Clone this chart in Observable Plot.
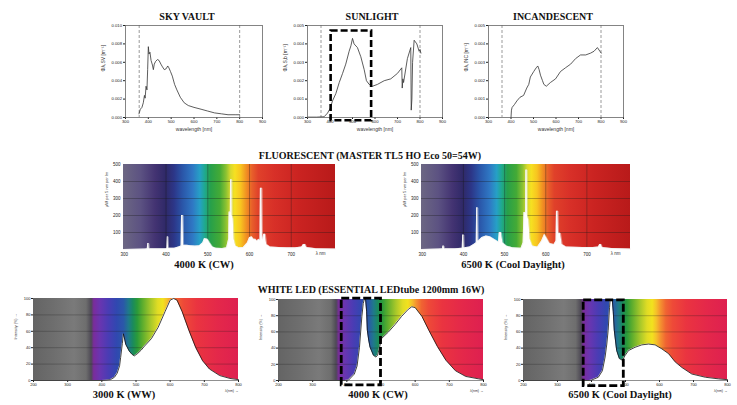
<!DOCTYPE html>
<html><head><meta charset="utf-8">
<script src="https://cdn.jsdelivr.net/npm/d3@7"></script>
<script src="https://cdn.jsdelivr.net/npm/@observablehq/plot@0.6"></script>
<style>
body{margin:0;background:#fff;}
#root{position:relative;width:737px;height:405px;overflow:hidden;background:#fff;}
.t{position:absolute;font-family:"Liberation Serif","Times New Roman",serif;font-weight:bold;white-space:nowrap;transform:translate(-50%,-50%);color:#111;line-height:1;}
</style></head><body><div id="root"></div>
<script>
// ---------- DATA ----------
const topTicksX = [300, 400, 500, 600, 700, 800, 900];
const visibleLimits = [360, 800];
const skyTicksY = [0, 0.002, 0.004, 0.006, 0.008, 0.010];
const sunTicksY = [0, 0.001, 0.002, 0.003, 0.004, 0.005];
const incTicksY = [0, 0.001, 0.002, 0.003, 0.004, 0.005];

const skyVault = [[359,0.0004],[365,0.0009],[372,0.0011],[378,0.0016],[383,0.0024],[386,0.0021],[390,0.0034],[394,0.0030],[397,0.0052],[400,0.0077],[403,0.0069],[407,0.0071],[412,0.0062],[418,0.0057],[422,0.0052],[426,0.0058],[432,0.0061],[440,0.0063],[447,0.0062],[455,0.0058],[462,0.0055],[470,0.0052],[478,0.0053],[485,0.0056],[490,0.0054],[497,0.0050],[505,0.0045],[515,0.0036],[525,0.0030],[540,0.0022],[557,0.0016],[575,0.0013],[600,0.0011],[631,0.0009],[660,0.0007],[690,0.0005],[720,0.0004],[749,0.0003],[780,0.0003],[800,0.0003]];

const sunlight = [[300,0.00002],[340,0.00002],[374,0.00004],[389,0.00024],[401,0.0005],[411,0.0009],[426,0.0013],[441,0.0019],[456,0.0024],[470,0.0029],[485,0.0036],[493,0.0039],[500,0.0043],[507,0.0040],[522,0.0038],[537,0.0033],[552,0.0026],[562,0.0020],[574,0.0018],[589,0.0017],[611,0.0018],[641,0.0020],[670,0.0021],[700,0.0024],[719,0.0027],[721,0.0016],[724,0.0021],[727,0.0019],[744,0.0032],[759,0.0038],[761,0.0004],[764,0.0010],[767,0.0030],[774,0.0042],[786,0.0040],[796,0.0036],[800,0.0037],[804,0.0035]];
const sunBox = [{x1:405, x2:585, y1:-0.00018, y2:0.0047}];

const incandescent = [[400,0],[402,0.0004],[405,0.00055],[415,0.0007],[426,0.0009],[440,0.0011],[456,0.0012],[470,0.0016],[479,0.0018],[486,0.0022],[501,0.0025],[512,0.0027],[519,0.0028],[525,0.0026],[531,0.0023],[540,0.0020],[546,0.0018],[557,0.0017],[575,0.0019],[598,0.0021],[620,0.0025],[642,0.0027],[665,0.0029],[687,0.0032],[709,0.0034],[732,0.0034],[754,0.0035],[769,0.0036],[784,0.0038],[795,0.0036],[801,0.0035]];

const flTicksX = [300, 400, 500, 600, 700];
const flTicksY = [100, 200, 300, 400, 500];
const flGridX = [400, 500, 600, 700];
const flGridY = [100, 200, 300, 400];

const fl4000 = [[298,0],[350,3],[355,5],[356,35],[359,35],[360,5],[380,4],[400,5],[402,8],[403,75],[405,75],[406,8],[420,8],[430,15],[436,20],[437,200],[441,200],[442,25],[450,25],[460,22],[470,20],[480,22],[488,40],[492,65],[500,60],[505,40],[512,15],[520,8],[535,6],[545,10],[550,60],[551,220],[554,220],[554.5,410],[558,410],[558.5,200],[561,180],[563,60],[567,20],[575,10],[585,12],[595,40],[600,70],[606,75],[610,60],[615,60],[618,50],[622,60],[625,55],[626,360],[630,360],[631,60],[634,90],[638,90],[641,30],[650,15],[670,12],[690,10],[710,10],[725,15],[729,30],[734,30],[737,12],[760,5],[806,3]];

const fl6500 = [[298,0],[340,3],[349,4],[350,20],[353,20],[354,4],[380,5],[397,8],[398,85],[401,85],[402,10],[415,15],[425,30],[431,40],[432,245],[435,245],[436,50],[445,70],[455,80],[465,75],[475,60],[485,45],[487,100],[492,100],[496,40],[505,20],[520,10],[540,8],[545,40],[547,218],[551,218],[551.5,467],[555,467],[555.5,200],[559,170],[562,60],[568,20],[580,15],[590,50],[597,90],[602,70],[610,35],[620,30],[625,50],[626,225],[630,225],[631,95],[636,95],[640,30],[650,15],[690,12],[715,12],[728,15],[731,30],[735,30],[738,12],[760,6],[806,3]];

const ledTicksX = [200, 300, 400, 500, 600, 700, 800];
const ledTicksY = [0, 20, 40, 60, 80, 100];
const ledGridY = [20, 40, 60, 80];

const led3000 = [[200,0],[400,0],[412,0.3],[425,1],[437,4],[445,9],[452,18],[455,28],[460,45],[463,57],[466,52],[470,44],[480,36],[488,32],[495,30],[505,33],[515,37],[525,42],[545,51],[565,65],[585,84],[600,98],[610,100],[620,98],[635,84],[655,61],[675,40],[695,24],[715,14],[745,6],[775,2.5],[800,1]];
const led4000 = [[200,0],[395,0],[405,0.5],[422,8],[430,18],[437,41],[444,79],[448,95],[451,100],[455,100],[458,85],[460,62],[464,50],[468,41],[478,31],[485,29],[490,31],[494,38],[502,52],[522,60],[541,69],[560,79],[580,88],[590,91],[600,90],[620,79],[640,62],[665,42],[690,25],[718,12],[748,5],[786,2],[800,1]];
const led4000Box = [{x1:385, x2:500, y1:-6, y2:101}];
const led6500 = [[200,0],[395,0],[400,0.5],[420,4],[432,12],[440,29],[445,45],[449,62],[453,90],[455,100],[461,100],[464,85],[467,62],[474,37],[482,27],[491,25],[499,31],[509,37],[528,41],[548,44],[568,45],[587,44],[607,39],[627,33],[646,23],[666,16],[695,8],[735,4],[774,2],[800,1]];
const led6500Box = [{x1:377, x2:495, y1:-7, y2:99}];

// spectral background colour stops (wavelength, colour)
const flStops = [[298,"#6c6783"],[340,"#5c5282"],[375,"#433372"],[400,"#2f2968"],[420,"#2c3688"],[440,"#2a55a8"],[465,"#2f78c4"],[482,"#26a0c6"],[494,"#1fa98e"],[508,"#27a04a"],[530,"#44aa36"],[545,"#8cc232"],[556,"#d9d92e"],[566,"#f6e021"],[580,"#f8c420"],[593,"#f19222"],[607,"#e8602a"],[622,"#e0412a"],[660,"#d83028"],[720,"#ca2321"],[806,"#b81a1a"]];
const ledStops = [[200,"#646464"],[260,"#6e6e6e"],[320,"#7a7a7a"],[355,"#6e6e6e"],[370,"#4e4a55"],[378,"#7a2c9c"],[395,"#6a35b0"],[420,"#4a3cb4"],[445,"#3048b0"],[465,"#2a58a8"],[480,"#1f7a8a"],[492,"#1a8a5e"],[505,"#2a9a3a"],[520,"#5aac2e"],[545,"#a8c82a"],[565,"#e0dc25"],[580,"#f2e21e"],[592,"#f5c02a"],[605,"#f49030"],[620,"#f06432"],[640,"#ee4a38"],[680,"#ea3440"],[740,"#e4284a"],[800,"#de2050"]];

// ---------- HELPERS ----------
const root = document.getElementById("root");
const sans = "Liberation Sans, Arial, sans-serif";
const X = d => d[0], Y = d => d[1];

function gradientMark(id, stops) {
  return (index, scales, values, dims) => {
    const x = scales.x;
    const lo = stops[0][0], hi = stops[stops.length - 1][0];
    const g = d3.create("svg:g");
    const lg = g.append("defs").append("linearGradient").attr("id", id)
      .attr("gradientUnits", "userSpaceOnUse")
      .attr("x1", x(lo)).attr("x2", x(hi)).attr("y1", 0).attr("y2", 0);
    stops.forEach(([w, c]) => lg.append("stop").attr("offset", (w - lo) / (hi - lo)).attr("stop-color", c));
    g.append("rect").attr("x", dims.marginLeft).attr("y", dims.marginTop)
      .attr("width", dims.width - dims.marginLeft - dims.marginRight)
      .attr("height", dims.height - dims.marginTop - dims.marginBottom)
      .attr("fill", `url(#${id})`);
    return g.node();
  };
}

function place(frame, m, x, y, marks, fs) {
  const [x0, x1, y0, y1] = frame, [mt, mr, mb, ml] = m;
  const p = Plot.plot({
    width: ml + (x1 - x0) + mr, height: mt + (y1 - y0) + mb,
    marginLeft: ml, marginRight: mr, marginTop: mt, marginBottom: mb,
    x, y, marks,
    style: {fontFamily: sans, fontSize: fs + "px", background: "transparent", color: "#222", overflow: "visible"}
  });
  p.style.position = "absolute";
  p.style.left = (x0 - ml) + "px";
  p.style.top = (y0 - mt) + "px";
  p.style.maxWidth = "none";
  root.appendChild(p);
}

function caption(txt, cx, cy, fs) {
  const d = document.createElement("div");
  d.className = "t"; d.textContent = txt;
  d.style.left = cx + "px"; d.style.top = cy + "px"; d.style.fontSize = fs + "px";
  root.appendChild(d);
}

// ---------- TOP ROW ----------
function topChart(frame, data, ticksY, ylab, extra) {
  place(frame, [4, 6, 18, 30],
    {domain: [300, 900], ticks: topTicksX, tickSize: 2, tickPadding: 1, label: null},
    {domain: [ticksY[0], ticksY[ticksY.length - 1]], ticks: ticksY, tickFormat: d3.format(".3f"), tickSize: 2, tickPadding: 1.5, label: null},
    [
      Plot.ruleX(visibleLimits, {stroke: "#808080", strokeWidth: 0.8, strokeDasharray: "3,2"}),
      Plot.line(data, {x: X, y: Y, stroke: "#333", strokeWidth: 0.8}),
      Plot.frame({stroke: "#666", strokeWidth: 0.8}),
      ...extra,
      Plot.text([ylab], {frameAnchor: "left", dx: -22, rotate: -90, fontSize: 5, fill: "#333"}),
      Plot.text(["wavelength [nm]"], {frameAnchor: "bottom", dy: 13, fontSize: 5, fill: "#333"})
    ], 4.2);
}
topChart([125, 262, 25, 117], skyVault, skyTicksY, "Φλ,SV [m⁻¹]", []);
topChart([307, 442, 25, 117], sunlight, sunTicksY, "Φλ,S,b [m⁻¹]", [
  Plot.rect(sunBox, {x1: "x1", x2: "x2", y1: "y1", y2: "y2", fill: "none", stroke: "#000", strokeWidth: 2.6, strokeDasharray: "7,3"})
]);
topChart([488, 623, 25, 117], incandescent, incTicksY, "Φλ,INC [m⁻¹]", []);
caption("SKY VAULT", 187, 17, 10);
caption("SUNLIGHT", 372, 17, 10);
caption("INCANDESCENT", 553, 17, 10);

// ---------- FLUORESCENT ----------
function flChart(frame, data, id) {
  place(frame, [4, 4, 12, 26],
    {domain: [298, 806], ticks: flTicksX, tickSize: 0, tickPadding: 3, label: null},
    {domain: [0, 500], ticks: flTicksY, tickSize: 0, tickPadding: 3, label: null},
    [
      gradientMark(id, flStops),
      Plot.ruleX(flGridX, {stroke: "#1a1a1a", strokeOpacity: 0.55, strokeWidth: 0.6}),
      Plot.ruleY(flGridY, {stroke: "#1a1a1a", strokeOpacity: 0.55, strokeWidth: 0.6}),
      Plot.areaY(data, {x: X, y: Y, fill: "white"}),
      Plot.line(data, {x: X, y: Y, stroke: "#e8e8e8", strokeWidth: 0.5}),
      Plot.text(["λ nm"], {frameAnchor: "bottom-right", dx: -10, dy: 5, fontSize: 4.5, fill: "#333"}),
      Plot.text(["µW per 5 nm per lm"], {frameAnchor: "left", dx: -17, rotate: -90, fontSize: 4, fill: "#333"})
    ], 4.5);
}
flChart([123, 335, 164, 249], fl4000, "gFl4000");
flChart([421, 630, 164, 249], fl6500, "gFl6500");
caption("FLUORESCENT (MASTER TL5 HO Eco 50=54W)", 370, 156, 10);
caption("4000 K (CW)", 204, 265, 10.5);
caption("6500 K (Cool Daylight)", 513, 265, 10.5);

// ---------- LED ----------
function ledChart(frame, data, id, box) {
  place(frame, [4, 8, 15, 24],
    {domain: [200, 800], ticks: ledTicksX, tickSize: 2, tickPadding: 1, label: null},
    {domain: [0, 100], ticks: ledTicksY, tickSize: 2, tickPadding: 1, label: null},
    [
      gradientMark(id, ledStops),
      Plot.ruleY(ledGridY, {stroke: "#1a1a1a", strokeOpacity: 0.45, strokeWidth: 0.6}),
      Plot.areaY(data, {x: X, y: Y, fill: "white"}),
      Plot.line(data, {x: X, y: Y, stroke: "#111", strokeWidth: 0.8}),
      Plot.ruleY([0], {stroke: "#444", strokeWidth: 0.6}),
      ...(box ? [Plot.rect(box, {x1: "x1", x2: "x2", y1: "y1", y2: "y2", fill: "none", stroke: "#000", strokeWidth: 2.8, strokeDasharray: "8,3"})] : []),
      Plot.text(["λ(nm) →"], {frameAnchor: "bottom-right", dy: 11, textAnchor: "end", fontSize: 3.5, fill: "#333"}),
      Plot.text(["Intensity (%) →"], {frameAnchor: "left", dx: -18, rotate: -90, fontSize: 3.8, fill: "#333"})
    ], 4);
}
ledChart([33, 238, 298, 380], led3000, "gLed3000", null);
ledChart([278, 483, 299, 380], led4000, "gLed4000", led4000Box);
ledChart([523, 727, 299, 380], led6500, "gLed6500", led6500Box);
caption("WHITE LED (ESSENTIAL LEDtube 1200mm 16W)", 371, 290, 10);
caption("3000 K (WW)", 124, 395, 10.5);
caption("4000 K (CW)", 378, 395, 10.5);
caption("6500 K (Cool Daylight)", 620, 395, 10.5);
</script></body></html>
